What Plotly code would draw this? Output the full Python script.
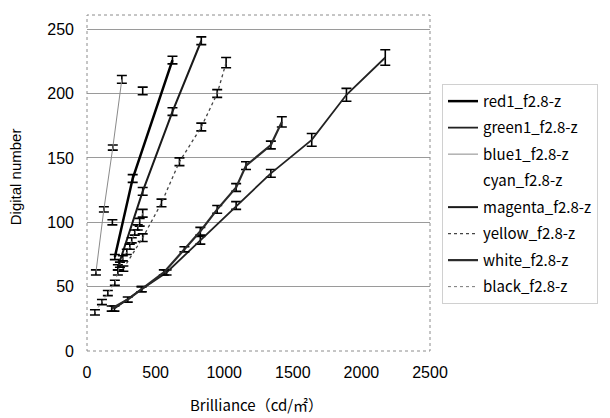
import plotly.graph_objects as go

# ---- data ----
names = ["red1_f2.8-z", "green1_f2.8-z", "blue1_f2.8-z", "cyan_f2.8-z",
         "magenta_f2.8-z", "yellow_f2.8-z", "white_f2.8-z", "black_f2.8-z"]

red1_x = [203, 333, 623]
red1_y = [73, 134, 226]
red1_e = [2, 3, 3]

green1_x = [200, 398, 580, 826, 1087, 1340, 1638, 1891, 2174]
green1_y = [33, 48, 61, 86, 113, 138, 164, 199, 228]
green1_e = [2, 2, 2, 3, 3, 3, 5, 5, 6]

blue1_x = [65, 123, 188, 254]
blue1_y = [61, 110, 158, 211]
blue1_e = [2, 2, 2, 3]

cyan_x = [185, 406]
cyan_y = [100, 202]
cyan_e = [2, 3]

magenta_x = [225, 406, 623, 833]
magenta_y = [65, 124, 186, 241]
magenta_e = [2, 3, 3, 3]

yellow_x = [265, 406, 543, 674, 833, 949, 1014]
yellow_y = [64, 88, 115, 147, 174, 200, 224]
yellow_e = [2, 3, 3, 3, 3, 3, 4]

white_x = [180, 297, 398, 560, 710, 826, 949, 1087, 1159, 1340, 1420]
white_y = [33, 40, 48, 61, 79, 93, 110, 127, 144, 160, 178]
white_e = [2, 2, 2, 2, 2, 3, 3, 3, 3, 3, 4]

black_x = [58, 109, 152, 203, 225, 240, 261, 290, 312, 326, 348, 370, 384, 406]
black_y = [30, 38, 45, 53, 61, 67, 72, 77, 81, 86, 92, 96, 100, 107]
black_e = [2, 2, 2, 2, 2, 2, 2, 2, 2, 2, 2, 2, 3, 3]

x_ticks = [0, 500, 1000, 1500, 2000, 2500]
y_ticks = [0, 50, 100, 150, 200, 250]

series = [
    (names[0], red1_x, red1_y, red1_e, dict(color="#000000", width=2.5)),
    (names[1], green1_x, green1_y, green1_e, dict(color="#222222", width=1.8)),
    (names[2], blue1_x, blue1_y, blue1_e, dict(color="#8a8a8a", width=1)),
    (names[3], cyan_x, cyan_y, cyan_e, dict(color="rgba(0,0,0,0)", width=1)),
    (names[4], magenta_x, magenta_y, magenta_e, dict(color="#1a1a1a", width=2)),
    (names[5], yellow_x, yellow_y, yellow_e, dict(color="#444444", width=1.3, dash="dot")),
    (names[6], white_x, white_y, white_e, dict(color="#2a2a2a", width=2.2)),
    (names[7], black_x, black_y, black_e, dict(color="#777777", width=1, dash="dot")),
]

fig = go.Figure()
for i, (nm, xs, ys, es, ln) in enumerate(series):
    fig.add_trace(go.Scatter(
        x=xs, y=ys, name=nm, mode="lines", line=ln,
        legendgroup=f"g{i}",
        error_y=dict(type="data", array=es, visible=True, color="#000000",
                     thickness=1.6, width=5),
    ))

jp = "Noto Sans CJK JP"
fig.update_layout(
    width=610, height=418,
    margin=dict(l=87, r=178, t=15, b=67),
    paper_bgcolor="white", plot_bgcolor="white",
    showlegend=True,
    legend=dict(
        x=1.035, xanchor="left", y=0.795, yanchor="top",
        font=dict(family=jp, size=15, color="#000"),
        traceorder="grouped", tracegroupgap=4,
        bordercolor="#d0d0d0", borderwidth=1,
        bgcolor="rgba(255,255,255,0)",
    ),
    xaxis=dict(
        range=[0, 2500], tickvals=x_ticks, ticktext=[str(v) for v in x_ticks],
        showgrid=False, zeroline=False, showline=False, ticks="",
        tickfont=dict(family="Liberation Sans", size=16, color="#000"),
        ticklabelstandoff=10,
    ),
    yaxis=dict(
        range=[0, 261], tickvals=y_ticks, ticktext=[str(v) for v in y_ticks],
        showgrid=True, gridcolor="#9a9a9a", gridwidth=1,
        zeroline=False, showline=False, ticks="",
        tickfont=dict(family="Liberation Sans", size=16, color="#000"),
        ticklabelstandoff=12,
    ),
    shapes=[dict(type="rect", xref="paper", yref="paper", x0=0, y0=0, x1=1, y1=1,
                 line=dict(color="#8c8c8c", width=1, dash="dot"))],
    annotations=[
        dict(text="Brilliance（cd/㎡）", xref="paper", yref="paper",
             x=0.495, y=-0.16, xanchor="center", yanchor="middle", showarrow=False,
             font=dict(family=jp, size=15, color="#000")),
        dict(text="Digital number", xref="paper", yref="paper",
             x=-0.21, y=0.52, xanchor="center", yanchor="middle", showarrow=False,
             textangle=-90, font=dict(family="Liberation Sans", size=15, color="#000")),
    ],
)

fig.write_html("out.html")
